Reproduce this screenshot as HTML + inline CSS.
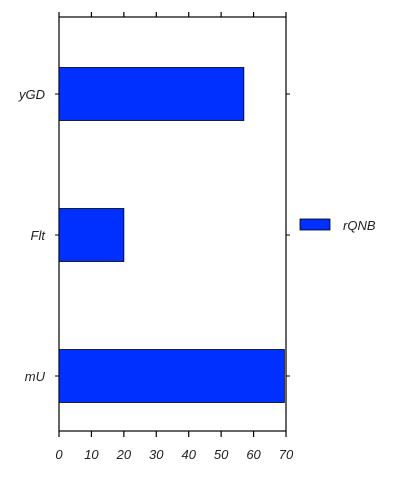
<!DOCTYPE html>
<html><head><meta charset="utf-8"><style>
body{margin:0;background:#fff;}
text{font-family:"Liberation Sans",sans-serif;font-style:italic;font-size:13px;fill:#222;}
</style></head><body>
<svg id="chart" width="408" height="476">
<rect x="59" y="17" width="227" height="414" fill="none" stroke="#000" stroke-width="1.2"/>
<g id="g"></g>
<rect x="300" y="219" width="30" height="11" fill="#0030ff" stroke="#000" stroke-width="0.8"/>
<text x="343" y="230">rQNB</text>
</svg>
<script>
const categories=["yGD","Flt","mU"];
const values=[57,20,69.5];
const ticks=[0,10,20,30,40,50,60,70];
const ns="http://www.w3.org/2000/svg";
const g=document.getElementById('g');
const x0=59,x1=286,yTop=17,yBot=431,xmax=70;
const xs=v=>x0+(x1-x0)*v/xmax;
const yc=i=>94+i*141;
function el(t,a){const e=document.createElementNS(ns,t);for(const k in a)e.setAttribute(k,a[k]);g.appendChild(e);return e;}
categories.forEach((c,i)=>{
 const r=el('rect',{x:x0,y:yc(i)-26.5,width:xs(values[i])-x0,height:53,fill:'#0030ff',stroke:'#000','stroke-width':0.8});
 
 
 const t=el('text',{x:x0-14,y:yc(i)+5,'text-anchor':'end'});t.textContent=c;
 
 
 el('line',{x1:x0-4,x2:x0,y1:yc(i),y2:yc(i),stroke:'#000'});
 el('line',{x1:x1,x2:x1+4,y1:yc(i),y2:yc(i),stroke:'#000'});
});
ticks.forEach(v=>{
 el('line',{x1:xs(v),x2:xs(v),y1:yBot,y2:yBot+6,stroke:'#000','stroke-width':1.2});
 el('line',{x1:xs(v),x2:xs(v),y1:yTop-5,y2:yTop,stroke:'#000','stroke-width':1.2});
 const t=el('text',{x:xs(v),y:459,'text-anchor':'middle'});t.textContent=v;
 
 
});
</script>
</body></html>
